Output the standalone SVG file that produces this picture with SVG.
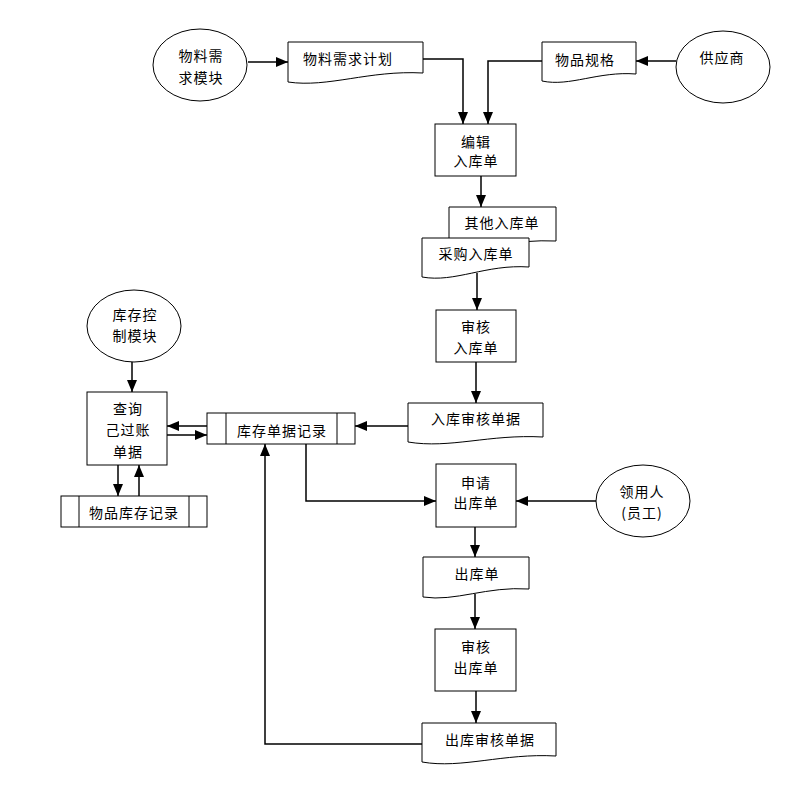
<svg xmlns="http://www.w3.org/2000/svg" width="787" height="790" viewBox="0 0 787 790">
<style>
.s{fill:#fff;stroke:#000;stroke-width:1}
.c{fill:none;stroke:#000;stroke-width:1.5}
text{font-family:"Noto Sans CJK SC","Liberation Sans",sans-serif;font-size:14px;letter-spacing:1px;text-anchor:middle;dominant-baseline:central;fill:#000}
</style>
<defs>
<marker id="a" markerWidth="12" markerHeight="10" refX="12" refY="5" orient="auto" markerUnits="userSpaceOnUse"><path d="M0,0 L12,5 L0,10 z" fill="#000"/></marker>
</defs>
<rect width="787" height="790" fill="#fff"/>
<g id="connectors">
<path class="c" d="M248,62 H288" marker-end="url(#a)"/>
<path class="c" d="M423,59 H463 V124" marker-end="url(#a)"/>
<path class="c" d="M542,61 H488 V124" marker-end="url(#a)"/>
<path class="c" d="M676,61 H636" marker-end="url(#a)"/>
<path class="c" d="M481,176 V207" marker-end="url(#a)"/>
<path class="c" d="M477,273 V310" marker-end="url(#a)"/>
<path class="c" d="M476,362 V403" marker-end="url(#a)"/>
<path class="c" d="M408,426 H355" marker-end="url(#a)"/>
<path class="c" d="M207,426 H167" marker-end="url(#a)"/>
<path class="c" d="M167,435 H207" marker-end="url(#a)"/>
<path class="c" d="M132,362 V392" marker-end="url(#a)"/>
<path class="c" d="M118,465 V496" marker-end="url(#a)"/>
<path class="c" d="M139,496 V465" marker-end="url(#a)"/>
<path class="c" d="M306,444 V501 H436" marker-end="url(#a)"/>
<path class="c" d="M596,501 H516" marker-end="url(#a)"/>
<path class="c" d="M475,527 V557" marker-end="url(#a)"/>
<path class="c" d="M475,594 V629" marker-end="url(#a)"/>
<path class="c" d="M476,691 V723" marker-end="url(#a)"/>
<path class="c" d="M422,744 H265 V444" marker-end="url(#a)"/>
</g>
<g id="n1"><ellipse class="s" cx="200" cy="65" rx="47" ry="36"/><text x="201" y="55">物料需</text><text x="201" y="77">求模块</text></g>
<g id="n2"><path class="s" d="M288,42 H423 V73 C369,70 328,88 288,82 Z"/><text x="348" y="58">物料需求计划</text></g>
<g id="n3"><path class="s" d="M542,42 H636 V74 C598,71 570,87 542,81 Z"/><text x="585" y="59">物品规格</text></g>
<g id="n4"><ellipse class="s" cx="723" cy="67" rx="47" ry="36"/><text x="722" y="57">供应商</text></g>
<g id="n5"><rect class="s" x="435" y="124" width="81" height="52"/><text x="476" y="141">编辑</text><text x="476" y="160">入库单</text></g>
<g id="n6"><path class="s" d="M449,207 H556 V241 C515,239 485,250 449,247 Z"/><text x="502" y="222">其他入库单</text></g>
<g id="n7"><path class="s" d="M422,238 H529 V267 C486,264 455,283 422,277 Z"/><text x="476" y="253">采购入库单</text></g>
<g id="n8"><rect class="s" x="436" y="310" width="80" height="52"/><text x="476" y="326">审核</text><text x="476" y="347">入库单</text></g>
<g id="n9"><path class="s" d="M408,403 H543 V437 C489,434 450,449 408,442 Z"/><text x="476" y="418">入库审核单据</text></g>
<g id="n10"><rect class="s" x="207" y="413" width="148" height="31"/><path class="s" d="M226,413 V444 M337,413 V444"/><text x="282" y="430">库存单据记录</text></g>
<g id="n11"><ellipse class="s" cx="134" cy="326" rx="47" ry="36"/><text x="135" y="314">库存控</text><text x="135" y="335">制模块</text></g>
<g id="n12"><rect class="s" x="87" y="392" width="80" height="73"/><text x="128" y="408">查询</text><text x="128" y="429">己过账</text><text x="128" y="451">单据</text></g>
<g id="n13"><rect class="s" x="61" y="496" width="146" height="31"/><path class="s" d="M79,496 V527 M189,496 V527"/><text x="134" y="512">物品库存记录</text></g>
<g id="n14"><rect class="s" x="436" y="464" width="80" height="63"/><text x="476" y="482">申请</text><text x="476" y="502">出库单</text></g>
<g id="n15"><ellipse class="s" cx="643" cy="501" rx="47" ry="36"/><text x="642" y="491">领用人</text><text x="642" y="512">(员工)</text></g>
<g id="n16"><path class="s" d="M423,557 H529 V589 C487,586 455,602 423,597 Z"/><text x="477" y="573">出库单</text></g>
<g id="n17"><rect class="s" x="435" y="629" width="81" height="62"/><text x="476" y="646">审核</text><text x="476" y="667">出库单</text></g>
<g id="n18"><path class="s" d="M422,723 H556 V756 C503,753 462,769 422,762 Z"/><text x="490" y="739">出库审核单据</text></g>
</svg>
